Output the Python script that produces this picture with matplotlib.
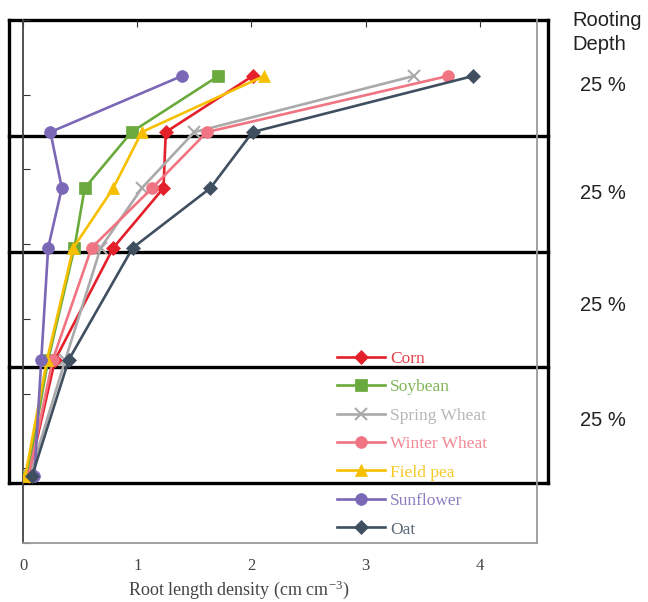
import matplotlib
matplotlib.use("Agg")
import matplotlib.pyplot as plt
import matplotlib.transforms as mtransforms

plt.rcParams["mathtext.fontset"] = "stix"

# ---- data ----
depth = [15, 30, 45, 61, 91, 122]
corn = [2.01, 1.25, 1.23, 0.79, 0.28, 0.05]
soybean = [1.71, 0.95, 0.54, 0.45, 0.22, 0.04]
spring_wheat = [3.42, 1.50, 1.04, 0.68, 0.37, 0.06]
winter_wheat = [3.72, 1.61, 1.13, 0.60, 0.26, 0.05]
field_pea = [2.11, 1.04, 0.79, 0.44, 0.21, 0.02]
sunflower = [1.39, 0.24, 0.34, 0.22, 0.16, 0.10]
oat = [3.94, 2.01, 1.64, 0.96, 0.40, 0.08]

series_names = ["Corn", "Soybean", "Spring Wheat", "Winter Wheat", "Field pea", "Sunflower", "Oat"]
series_values = [corn, soybean, spring_wheat, winter_wheat, field_pea, sunflower, oat]
colors = ["#e4202a", "#6aaa3c", "#aaaaaa", "#f07482", "#f6c000", "#7a68b6", "#3f4f60"]
markers = ["D", "s", "x", "o", "^", "o", "D"]
msizes = [7, 8.5, 8, 8.5, 8.5, 8.5, 7]

xticks = [0, 1, 2, 3, 4]
quartile_bounds = [0, 31, 62, 93, 124]
quartile_labels = ["25 %", "25 %", "25 %", "25 %"]
label_depths = [17.4, 46.5, 76.3, 107.3]

fig = plt.figure(figsize=(6.48, 6.02), dpi=100)
ax = fig.add_axes([23/648, 1-543/602, (537-23)/648, (543-20)/602])

for name, vals, c, m, ms in zip(series_names, series_values, colors, markers, msizes):
    ax.plot(vals, depth, color=c, marker=m, markersize=ms, linewidth=1.9,
            markeredgewidth=1.5 if m == "x" else 0.5, markeredgecolor=c,
            label=name, zorder=3)

ax.set_xlim(0, 4.5)
ax.set_ylim(140, 0)
ax.set_xticks(xticks)
ax.set_xticklabels([str(t) for t in xticks], family="Liberation Serif", fontsize=12, color="#444444")
ax.set_yticks(range(0, 141, 20))
ax.set_yticklabels([])
ax.tick_params(axis="x", direction="in", top=True, bottom=False, length=5, color="#333333", pad=11)
ax.tick_params(axis="y", direction="in", left=True, length=5, color="#333333")
ax.set_xlabel("Root length density (cm cm$^{\\mathregular{-3}}$)", family="Liberation Serif",
              fontsize=13, color="#444444", labelpad=0)
ax.xaxis.set_label_coords(0.42, -0.068)

for s in ["bottom", "right"]:
    ax.spines[s].set_color("#9a9a9a")
    ax.spines[s].set_linewidth(1.3)
ax.spines["left"].set_color("#444444")
ax.spines["left"].set_linewidth(1.3)
ax.spines["top"].set_visible(False)

# thick rooting-depth boxes (x in figure fraction, y in data)
trans = mtransforms.blended_transform_factory(fig.transFigure, ax.transData)
xl, xr = 9/648, 548/648
for b in quartile_bounds:
    ax.plot([xl, xr], [b, b], transform=trans, color="black", linewidth=2.4,
            clip_on=False, zorder=1, solid_capstyle="projecting")
ax.plot([xl, xl], [quartile_bounds[0], quartile_bounds[-1]], transform=trans, color="black",
        linewidth=2.4, clip_on=False, zorder=1)
ax.plot([xr, xr], [quartile_bounds[0], quartile_bounds[-1]], transform=trans, color="black",
        linewidth=2.4, clip_on=False, zorder=1)

# right-hand annotations
fig.text(572/648, 1-21/602, "Rooting", family="Liberation Sans", fontsize=14.5,
         color="#222222", ha="left", va="center")
fig.text(572/648, 1-45/602, "Depth", family="Liberation Sans", fontsize=14.5,
         color="#222222", ha="left", va="center")
for d, lab in zip(label_depths, quartile_labels):
    ax.text(603/648, d, lab, transform=trans, family="Liberation Sans", fontsize=14.5,
            color="#222222", ha="center", va="center", clip_on=False)

leg = ax.legend(loc="upper left", bbox_to_anchor=(337/648, 1-350.5/602),
                bbox_transform=fig.transFigure, frameon=False, borderpad=0, borderaxespad=0,
                prop={"family": "Liberation Serif", "size": 12.5}, handlelength=2.75,
                handletextpad=0.3, labelspacing=0.71)
for txt, c in zip(leg.get_texts(), colors):
    txt.set_color(c)
    txt.set_alpha(0.85)
leg.set_zorder(5)

fig.savefig("out.png", dpi=100)
